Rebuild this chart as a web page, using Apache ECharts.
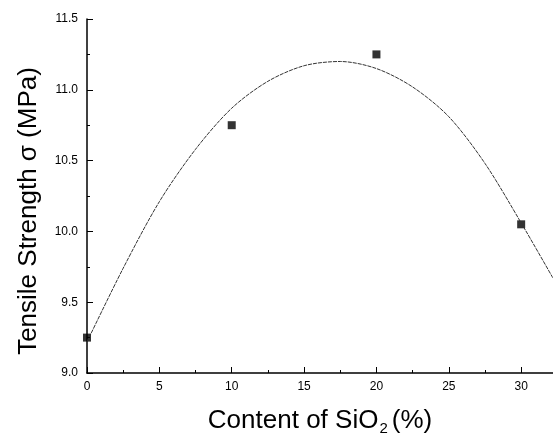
<!DOCTYPE html>
<html>
<head>
<meta charset="utf-8">
<title>Tensile Strength</title>
<script src="https://cdn.jsdelivr.net/npm/echarts@6/dist/echarts.min.js"></script>
</head>
<body style="margin:0;background:#fff">
<div id="image" style="width:553px;height:435px"></div>
<script type="text/javascript">
// measured points
var sio2 = [0, 10, 20, 30];
var strength = [9.25, 10.75, 11.25, 10.05];
// fitted curve
var curveX = [0, 2.5, 5, 7.5, 10, 12.5, 15, 17.5, 20, 22.5, 25, 27.5, 30, 32.2];
var curveY = [9.22, 9.74, 10.21, 10.58, 10.87, 11.06, 11.17, 11.20, 11.15, 11.02, 10.81, 10.48, 10.06, 9.67];

var pts = sio2.map(function (x, i) { return [x, strength[i]]; });
var fit = curveX.map(function (x, i) { return [x, curveY[i]]; });

var font = '"Liberation Sans", Arial, sans-serif';
var myChart = echarts.init(document.getElementById('image'));
myChart.setOption({
  animation: false,
  grid: { left: 87, top: 19, right: 0, bottom: 62, containLabel: false, outerBoundsMode: 'none' },
  xAxis: {
    type: 'value', min: 0, max: 32.2, interval: 5,
    name: 'Content of SiO{sub|2}(%)',
    nameLocation: 'middle', nameGap: 32,
    nameTextStyle: {
      fontFamily: font, fontSize: 26, color: '#000',
      rich: { sub: { fontFamily: font, fontSize: 15, color: '#000', padding: [16, 4, 0, 1] } }
    },
    axisLine: { lineStyle: { color: '#000', width: 1.5 } },
    axisTick: { inside: true, length: 6, lineStyle: { color: '#000' } },
    minorTick: { show: true, splitNumber: 2, length: 3, lineStyle: { color: '#000' } },
    axisLabel: { fontFamily: font, fontSize: 12, color: '#000', margin: 8, showMaxLabel: false },
    splitLine: { show: false }
  },
  yAxis: {
    type: 'value', min: 9, max: 11.5, interval: 0.5,
    name: 'Tensile Strength σ (MPa)',
    nameLocation: 'middle', nameGap: 45,
    nameTextStyle: { fontFamily: font, fontSize: 26, color: '#000', padding: [0, 30, 0, 0] },
    axisLine: { show: true, lineStyle: { color: '#000', width: 1.5 } },
    axisTick: { show: true, inside: true, length: 6, lineStyle: { color: '#000' } },
    minorTick: { show: true, splitNumber: 2, length: 3, lineStyle: { color: '#000' } },
    axisLabel: {
      fontFamily: font, fontSize: 12, color: '#000', margin: 9,
      formatter: function (v) { return v.toFixed(1); }
    },
    splitLine: { show: false }
  },
  series: [
    {
      type: 'line', data: fit, smooth: 0.3, showSymbol: false,
      lineStyle: { color: '#333', width: 1, type: [4, 1] }
    },
    {
      type: 'scatter', data: pts, symbol: 'rect', symbolSize: 8,
      itemStyle: { color: '#000' }
    }
  ]
});
</script>
</body>
</html>
